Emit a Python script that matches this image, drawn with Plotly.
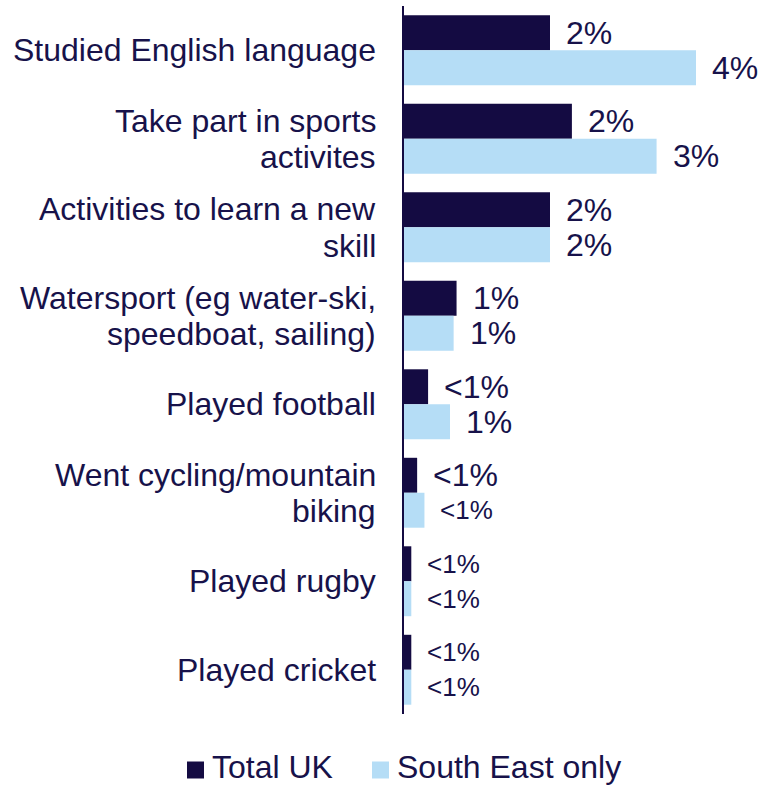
import plotly.graph_objects as go

# Categories (top to bottom) and their wrapped display lines
categories = [
    "Studied English language",
    "Take part in sports\nactivites",
    "Activities to learn a new\nskill",
    "Watersport (eg water-ski,\nspeedboat, sailing)",
    "Played football",
    "Went cycling/mountain\nbiking",
    "Played rugby",
    "Played cricket",
]

# Share of respondents (%)
total_uk = [2.0, 2.3, 2.0, 0.72, 0.33, 0.18, 0.10, 0.10]
south_east = [4.0, 3.46, 2.0, 0.68, 0.63, 0.28, 0.10, 0.10]

# Printed value labels
total_uk_labels = ["2%", "2%", "2%", "1%", "<1%", "<1%", "<1%", "<1%"]
south_east_labels = ["4%", "3%", "2%", "1%", "1%", "<1%", "<1%", "<1%"]

series_names = ["Total UK", "South East only"]

# Styling
DARK = "#140b42"
LIGHT = "#b5ddf6"
TEXT = "#17124a"
FONT = "Liberation Sans, Arial, sans-serif"
BIG = 32
SMALL = 26
uk_label_size = [BIG, BIG, BIG, BIG, BIG, BIG, SMALL, SMALL]
se_label_size = [BIG, BIG, BIG, BIG, BIG, SMALL, SMALL, SMALL]

W, H = 773, 785
ML, MR, MT, MB = 404, 4, 6, 71
PW, PH = W - ML - MR, H - MT - MB

BARGAP = 0.21
OFFSET = (1 - BARGAP) / 4

idx = list(range(len(categories)))

fig = go.Figure()
for name, vals, col in zip(series_names, [total_uk, south_east], [DARK, LIGHT]):
    fig.add_trace(go.Bar(
        y=idx, x=vals, orientation="h", name=name,
        marker=dict(color=col, line=dict(width=0)), showlegend=False,
        hoverinfo="skip",
    ))

annotations = []
# Value labels beside each bar
for i in idx:
    annotations.append(dict(
        x=total_uk[i], y=i - OFFSET, xref="x", yref="y",
        text=total_uk_labels[i], showarrow=False, xanchor="left",
        yanchor="middle", xshift=14,
        font=dict(family=FONT, size=uk_label_size[i], color=TEXT),
    ))
    annotations.append(dict(
        x=south_east[i], y=i + OFFSET, xref="x", yref="y",
        text=south_east_labels[i], showarrow=False, xanchor="left",
        yanchor="middle", xshift=14,
        font=dict(family=FONT, size=se_label_size[i], color=TEXT),
    ))

# Category labels, right-aligned against the axis, tight line spacing
LINE_STEP = 36.5
for i, cat in enumerate(categories):
    lines = cat.split("\n")
    n = len(lines)
    for k, line in enumerate(lines):
        shift = ((n - 1) / 2 - k) * LINE_STEP
        annotations.append(dict(
            x=0, y=i, xref="paper", yref="y", text=line, showarrow=False,
            xanchor="right", yanchor="middle", xshift=-26, yshift=shift,
            font=dict(family=FONT, size=BIG, color=TEXT),
        ))


# Legend drawn below the chart: square swatch followed by its name
def px_x(p):
    return (p - ML) / PW


def px_y(p):
    return (H - MB - p) / PH


shapes = []
legend_left = [187, 372]
SW = 17
LEG_Y = 770
for left, name, col in zip(legend_left, series_names, [DARK, LIGHT]):
    shapes.append(dict(
        type="rect", xref="paper", yref="paper",
        x0=px_x(left), x1=px_x(left + SW),
        y0=px_y(LEG_Y + SW / 2), y1=px_y(LEG_Y - SW / 2),
        fillcolor=col, line=dict(width=0),
    ))
    annotations.append(dict(
        x=px_x(left + SW + 7), y=px_y(LEG_Y - 3), xref="paper", yref="paper",
        text=name, showarrow=False, xanchor="left", yanchor="middle",
        borderpad=0,
        font=dict(family=FONT, size=BIG, color=TEXT),
    ))

fig.update_layout(
    width=W, height=H,
    margin=dict(l=ML, r=MR, t=MT, b=MB),
    paper_bgcolor="white", plot_bgcolor="white",
    barmode="group", bargap=BARGAP, bargroupgap=0,
    font=dict(family=FONT, size=BIG, color=TEXT),
    annotations=annotations,
    shapes=shapes,
    showlegend=False,
    xaxis=dict(range=[0, 5], visible=False, fixedrange=True),
    yaxis=dict(
        range=[len(categories) - 0.5, -0.5], showticklabels=False,
        showgrid=False, zeroline=False, ticks="",
        showline=True, linecolor=DARK, linewidth=2, fixedrange=True,
    ),
)

fig.write_html("out.html")
